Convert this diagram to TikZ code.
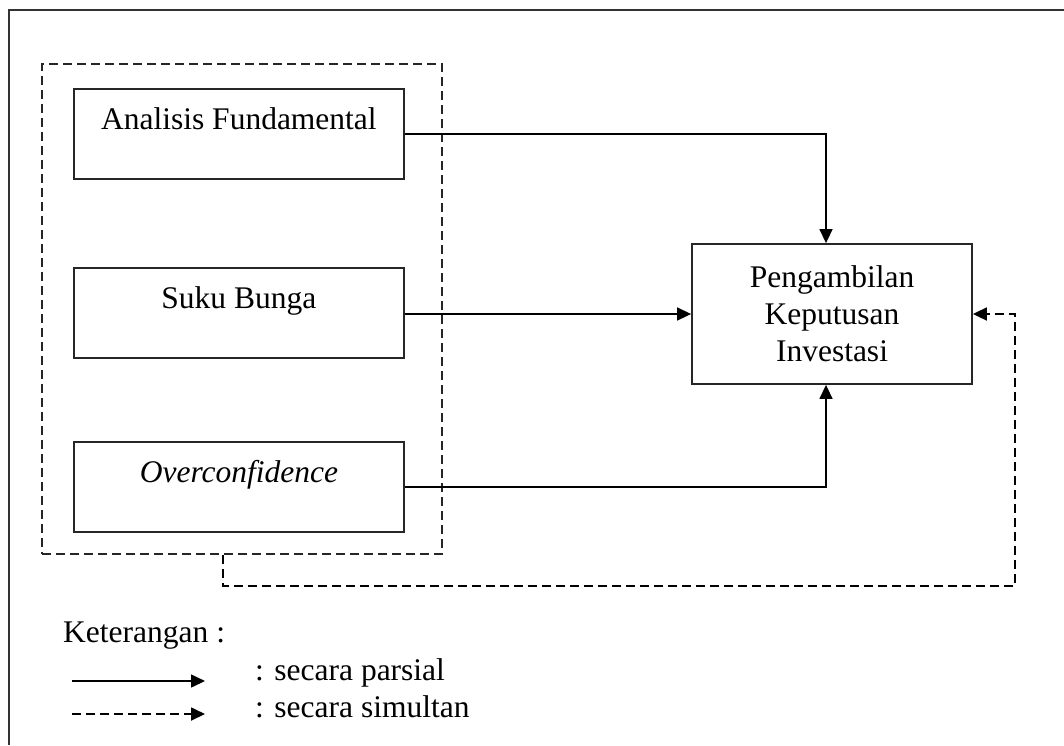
\documentclass[tikz,border=0pt]{standalone}
\usepackage{fontspec}
\setmainfont{Liberation Serif}
\usetikzlibrary{arrows.meta}
\begin{document}
\begin{tikzpicture}[x=1pt,y=-1pt,
  every node/.style={font=\fontsize{31.5}{37}\selectfont},
  varbox/.style={draw=black!85, line width=1.8pt, minimum width=330pt, inner sep=0pt,
                 text height=41pt, text depth=49pt, anchor=north west},
  mainbox/.style={draw=black!85, line width=1.8pt, minimum width=280pt, minimum height=140pt,
                  inner sep=0pt, align=center},
  grpbox/.style={draw=black!85, line width=1.8pt, dash pattern=on 9pt off 5pt,
                 minimum width=400pt, minimum height=490pt, inner sep=0pt},
  solidarrow/.style={line width=1.5pt, -{Triangle[length=14pt,width=13pt]}},
  dasharrow/.style={line width=1.8pt, dash pattern=on 9pt off 5pt, -{Triangle[length=14pt,width=13pt]}},
  txt/.style={inner sep=0pt, anchor=base west}
]
\useasboundingbox (0,0) rectangle (1064,745);
% outer frame (only left and top edges visible)
\draw[line width=2.2pt, black!80] (9,745) -- (9,10) -- (1064,10);

\node[grpbox] (grp) at (242,309) {};
\node[varbox] (af) at (73,88) {Analisis Fundamental};
\node[varbox] (sb) at (73,267) {Suku Bunga};
\node[varbox] (oc) at (73,441) {\textit{Overconfidence}};
\node[mainbox] (pki) at (832,314) {Pengambilan\\Keputusan\\Investasi};

\draw[solidarrow] (af.east) -| ([xshift=-6pt]pki.north);
\draw[solidarrow] (sb.east |- pki.west) -- (pki.west);
\draw[solidarrow] (oc.east) -| ([xshift=-6pt]pki.south);

\coordinate (c1) at (1015,586);
\draw[dasharrow] ([xshift=-19pt]grp.south) |- (c1) |- (pki.east);

% legend
\node[txt] (ket) at (63,642) {Keterangan :};
\coordinate (l1a) at (72,681);
\coordinate (l1b) at (205,681);
\coordinate (l2a) at (72,714);
\coordinate (l2b) at (205,714);
\draw[solidarrow] (l1a) -- (l1b);
\draw[dasharrow] (l2a) -- (l2b);
\node[txt] (parsial) at (255,680) {: secara parsial};
\node[txt] (simultan) at (255,717) {: secara simultan};
\end{tikzpicture}
\end{document}
